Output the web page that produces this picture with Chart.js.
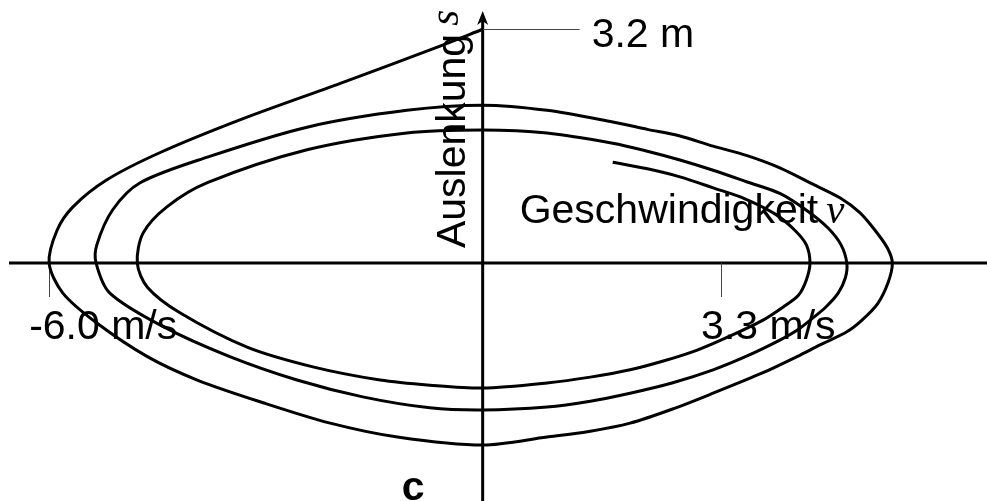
<!DOCTYPE html>
<html>
<head>
<meta charset="utf-8">
<title>Phasenraum</title>
<script src="https://cdn.jsdelivr.net/npm/chart.js@4/dist/chart.umd.min.js"></script>
<style>
  html, body { margin: 0; padding: 0; background: #fff; }
  canvas { display: block; }
</style>
</head>
<body>
<canvas id="phase" width="987" height="501"></canvas>
<script>
// Geschwindigkeit v (m/s) und Auslenkung s (m) entlang der Spirale, Start bei s = 3.2 m
const geschwindigkeit = [
  0.00, -0.59, -1.97, -3.36, -4.47, -5.20, -5.67, -5.89, -6.00, -5.81, -5.34, -4.64, -3.95, -3.04, -2.11, -1.18,
  0.00, 0.89, 1.49, 2.04, 2.62, 3.19, 3.88, 4.35, 4.67, 5.04, 5.25, 5.47, 5.61, 5.67,
  5.60, 5.43, 5.22, 4.95, 4.57, 4.12, 3.66, 3.19, 2.73, 2.28, 1.80, 0.89,
  0.00, -1.05, -2.43, -3.81, -4.74, -5.12, -5.34, -5.35, -5.16, -4.42, -3.50, -2.57, -1.66, -0.73,
  0.00, 0.89, 1.49, 2.04, 2.62, 3.19, 3.66, 4.12, 4.35, 4.57, 4.75, 4.92, 5.02, 5.04,
  4.96, 4.78, 4.50, 4.12, 3.66, 3.19, 2.73, 2.28, 1.80, 0.89,
  0.00, -1.05, -2.43, -3.81, -4.37, -4.70, -4.78, -4.64, -4.19, -3.26, -2.35, -1.42, -0.73,
  0.00, 0.89, 1.49, 2.04, 2.50, 2.97, 3.42, 3.88, 4.16, 4.37, 4.48, 4.53,
  4.48, 4.32, 4.05, 3.63, 3.19, 2.73, 2.28, 1.80
];
const auslenkung = [
  3.20, 2.97, 2.46, 1.96, 1.51, 1.14, 0.77, 0.45, 0.00, -0.41, -0.82, -1.28, -1.60, -1.91, -2.19, -2.38,
  -2.49, -2.38, -2.30, -2.19, -2.00, -1.78, -1.50, -1.28, -1.12, -0.94, -0.78, -0.55, -0.27, 0.00,
  0.21, 0.45, 0.69, 0.89, 1.08, 1.30, 1.47, 1.60, 1.74, 1.83, 1.93, 2.09,
  2.16, 2.09, 1.86, 1.45, 1.10, 0.73, 0.25, 0.00, -0.41, -0.87, -1.28, -1.60, -1.83, -1.98,
  -2.01, -1.97, -1.89, -1.78, -1.64, -1.46, -1.27, -1.05, -0.92, -0.75, -0.60, -0.41, -0.20, 0.00,
  0.25, 0.48, 0.71, 0.95, 1.11, 1.27, 1.41, 1.53, 1.64, 1.78,
  1.82, 1.78, 1.55, 1.10, 0.77, 0.41, 0.00, -0.33, -0.68, -1.15, -1.42, -1.60, -1.67,
  -1.71, -1.64, -1.56, -1.46, -1.34, -1.19, -1.00, -0.78, -0.60, -0.44, -0.23, 0.00,
  0.25, 0.45, 0.67, 0.88, 1.03, 1.18, 1.29, 1.38
];

// beschriftete Achsenwerte
const vTicks = [-6.0, 3.3];
const sTicks = [3.2];

const punkte = geschwindigkeit.map((v, i) => ({ x: v, y: auslenkung[i] }));

const SANS = '"Liberation Sans", Arial, sans-serif';
const SERIF = '"Liberation Serif", "Times New Roman", serif';

// Achsenkreuz, Pfeil, Striche und Texte
const achsen = {
  id: 'achsen',
  beforeDatasetsDraw(chart) {
    const { ctx, chartArea, scales: { x, y } } = chart;
    const x0 = x.getPixelForValue(0);
    const y0 = y.getPixelForValue(0);
    ctx.save();
    ctx.strokeStyle = '#000';
    ctx.fillStyle = '#000';
    ctx.lineWidth = 3;
    // waagrechte Achse
    ctx.beginPath();
    ctx.moveTo(chartArea.left + 9, y0);
    ctx.lineTo(chartArea.right, y0);
    ctx.stroke();
    // senkrechte Achse mit Pfeilspitze
    ctx.beginPath();
    ctx.moveTo(x0, chartArea.bottom);
    ctx.lineTo(x0, chartArea.top + 20);
    ctx.stroke();
    ctx.beginPath();
    ctx.moveTo(x0, chartArea.top + 11);
    ctx.lineTo(x0 - 5.5, chartArea.top + 25);
    ctx.lineTo(x0, chartArea.top + 21);
    ctx.lineTo(x0 + 5.5, chartArea.top + 25);
    ctx.closePath();
    ctx.fill();

    ctx.lineWidth = 1;
    ctx.strokeStyle = '#444';
    vTicks.forEach(v => {
      const px = Math.round(x.getPixelForValue(v)) + 0.5;
      ctx.beginPath();
      ctx.moveTo(px, y0);
      ctx.lineTo(px, y0 + 34);
      ctx.stroke();
    });
    sTicks.forEach(s => {
      const py = Math.round(y.getPixelForValue(s)) + 0.5;
      ctx.beginPath();
      ctx.moveTo(x0, py);
      ctx.lineTo(x0 + 97, py);
      ctx.stroke();
    });
    ctx.restore();
  },
  afterDatasetsDraw(chart) {
    const { ctx, chartArea, scales: { x, y } } = chart;
    const x0 = x.getPixelForValue(0);
    const y0 = y.getPixelForValue(0);
    ctx.save();
    ctx.fillStyle = '#000';
    ctx.textBaseline = 'alphabetic';
    ctx.textAlign = 'left';
    ctx.font = '41px ' + SANS;

    vTicks.forEach(v => {
      ctx.fillText(v.toFixed(1) + ' m/s', x.getPixelForValue(v) - 20, y0 + 76);
    });
    sTicks.forEach(s => {
      ctx.fillText(s.toFixed(1) + ' m', x0 + 109, y.getPixelForValue(s) + 18);
    });

    // Achsentitel waagrecht
    const gx = x0 + 37, gy = y0 - 40;
    ctx.fillText('Geschwindigkeit', gx, gy);
    const gw = ctx.measureText('Geschwindigkeit').width;
    ctx.font = 'italic 41px ' + SERIF;
    ctx.fillText('v', gx + gw + 8, gy);

    // Achsentitel senkrecht
    ctx.save();
    ctx.translate(x0 - 18, y0 - 15);
    ctx.rotate(-Math.PI / 2);
    ctx.font = '41px ' + SANS;
    ctx.fillText('Auslenkung', 0, 0);
    const aw = ctx.measureText('Auslenkung').width;
    ctx.font = 'italic 41px ' + SERIF;
    ctx.fillText('s', aw + 8, -7);
    ctx.restore();

    ctx.font = 'bold 41px ' + SANS;
    ctx.fillText('c', x0 - 81, chartArea.bottom - 1);
    ctx.restore();
  }
};

new Chart(document.getElementById('phase'), {
  type: 'scatter',
  data: {
    datasets: [{
      data: punkte,
      showLine: true,
      borderColor: '#000',
      borderWidth: 3,
      pointRadius: 0,
      tension: 0.3,
      fill: false
    }]
  },
  options: {
    responsive: false,
    animation: false,
    layout: { padding: 0 },
    plugins: { legend: { display: false }, tooltip: { enabled: false } },
    scales: {
      x: { type: 'linear', min: -6.68, max: 6.98, display: false },
      y: { type: 'linear', min: -3.255, max: 3.6, display: false }
    }
  },
  plugins: [achsen]
});
</script>
</body>
</html>
